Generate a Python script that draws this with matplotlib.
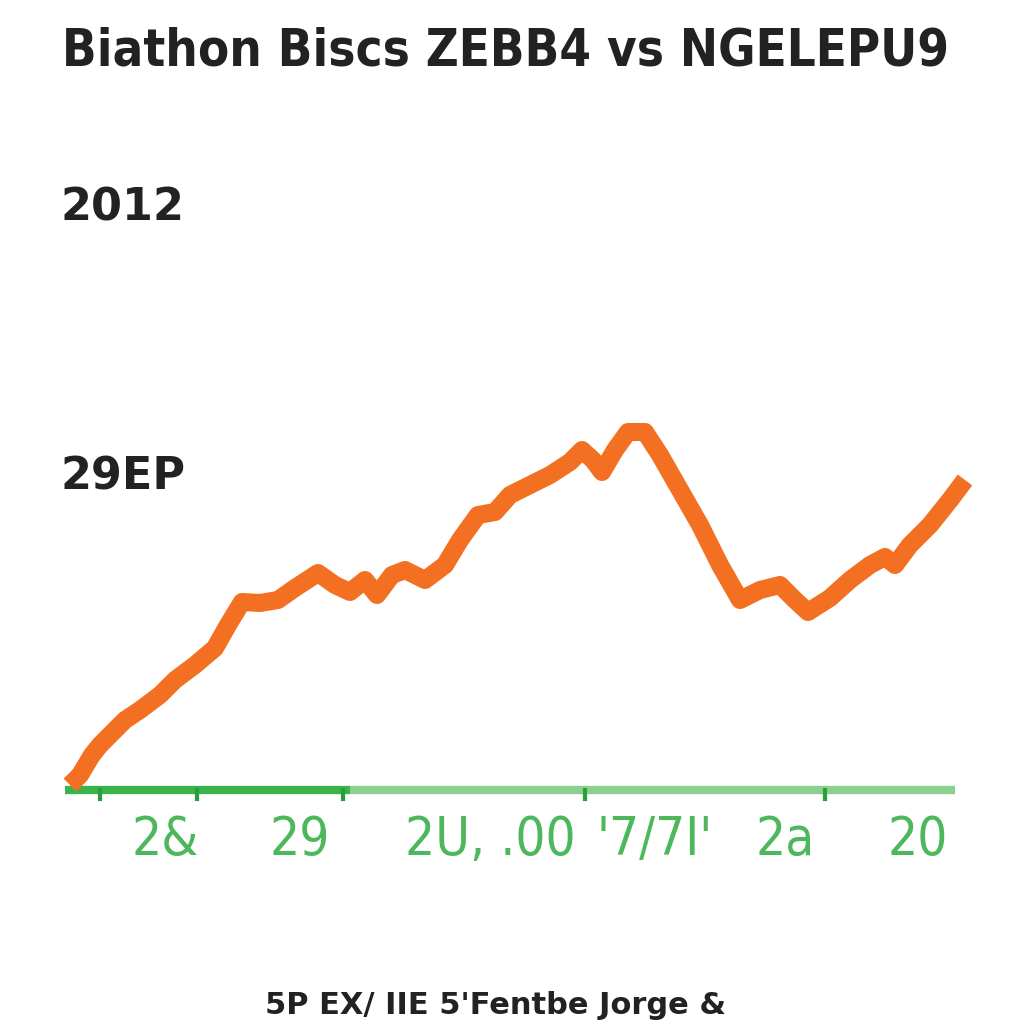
import matplotlib
matplotlib.use('Agg')
import matplotlib.pyplot as plt

# Series
x_vals = [0.5, 1.5, 2.7, 3.5, 4.5, 6.0, 7.5, 9.5, 11.0, 13.0, 15.0, 16.3, 17.7,
          19.5, 21.3, 23.0, 25.3, 27.0, 28.5, 30.0, 31.2, 32.7, 34.0, 36.0,
          38.0, 39.5, 41.3, 43.0, 44.5, 46.5, 48.5, 50.5, 51.7, 52.8, 53.7,
          55.0, 56.3, 58.0, 59.5, 61.5, 63.5, 65.5, 67.5, 69.5, 71.5, 73.0,
          74.3, 76.5, 78.5, 80.5, 82.0, 83.0, 84.5, 86.5, 88.5, 90.0]
y_vals = [0.5, 1.5, 3.5, 4.5, 5.5, 7.0, 8.0, 9.5, 11.0, 12.5, 14.2, 16.5, 18.8,
          18.7, 19.0, 20.2, 21.7, 20.5, 19.8, 21.0, 19.5, 21.5, 22.0, 21.0,
          22.5, 25.0, 27.5, 27.8, 29.5, 30.5, 31.5, 32.8, 34.0, 33.0, 31.8,
          34.0, 35.8, 35.8, 33.5, 30.0, 26.5, 22.5, 19.0, 20.0, 20.5, 19.0,
          17.8, 19.2, 21.0, 22.5, 23.3, 22.5, 24.5, 26.5, 29.0, 31.0]

tick_pos = [3.5, 13.2, 27.8, 52.0, 76.0]
label_pos = [10.0, 23.5, 42.5, 59.0, 72.0, 85.3]
label_txt = ['2&', '29', '2U, .00', "'7/7I'", '2a', '20']

title = 'Biathon Biscs ZEBB4 vs NGELEPU9'
side_labels = ['2012', '29EP']
bottom_text = "5P EX/ IIE 5'Fentbe Jorge &"

orange = '#F36F22'
green_dark = '#3DB34B'
green_light = '#8AD08E'
green_text = '#4DB85B'
ink = '#222222'

fig = plt.figure(figsize=(10.24, 10.24), dpi=100)
fig.patch.set_facecolor('white')
ax = fig.add_axes([65 / 1024, 1 - 790 / 1024, 910 / 1024, 390 / 1024])
ax.set_xlim(0, 91)
ax.set_ylim(0, 39)
ax.axis('off')

# baseline
ax.plot([0, 28.5], [0, 0], color=green_dark, lw=6, solid_capstyle='butt', clip_on=False, zorder=2)
ax.plot([28.5, 89], [0, 0], color=green_light, lw=6, solid_capstyle='butt', clip_on=False, zorder=2)
for t in tick_pos:
    ax.plot([t, t], [0, -0.9], color='#2A9E3A', lw=3, clip_on=False, zorder=2)

ax.plot(x_vals, y_vals, color=orange, lw=13, solid_joinstyle='round',
        solid_capstyle='butt', clip_on=False, zorder=3)

for p, s in zip(label_pos, label_txt):
    ax.text(p, -5.0, s, ha='center', va='center', color=green_text,
            fontsize=38, fontstretch='condensed', family='DejaVu Sans')

fig.text(62 / 1024, 1 - 52 / 1024, title, ha='left', va='center', fontsize=36.5,
         fontweight='bold', color=ink, fontstretch='condensed')
fig.text(60 / 1024, 1 - 208 / 1024, side_labels[0], ha='left', va='center',
         fontsize=32, fontweight='bold', color=ink)
fig.text(60 / 1024, 1 - 477 / 1024, side_labels[1], ha='left', va='center',
         fontsize=32, fontweight='bold', color=ink)
fig.text(265 / 1024, 4 / 1024, bottom_text, ha='left', va='bottom',
         fontsize=22, fontweight='bold', color=ink)

fig.savefig('out.png', dpi=100, facecolor='white')
